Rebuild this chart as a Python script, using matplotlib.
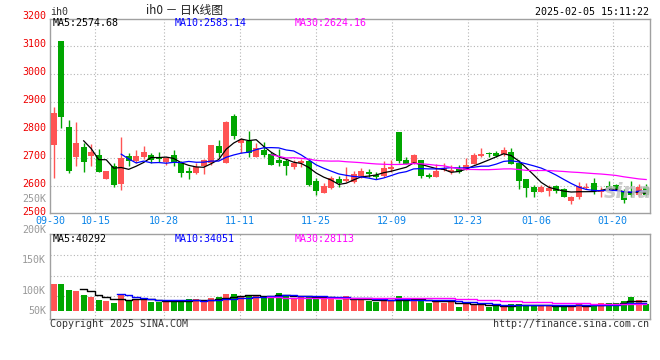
import matplotlib
matplotlib.use("Agg")
import matplotlib.pyplot as plt
import matplotlib.transforms as mtransforms
import pandas as pd

# ih0 daily K, 80 sessions starting 2024-09-30
opens = [2747, 3120, 2813, 2706, 2741, 2708, 2712, 2626, 2674, 2607,
         2708, 2691, 2704, 2712, 2704, 2686, 2712, 2684, 2656, 2646,
         2674, 2684, 2744, 2684, 2851, 2756, 2762, 2706, 2730, 2714,
         2694, 2690, 2670, 2682, 2691, 2619, 2575, 2595, 2626, 2619,
         2616, 2637, 2652, 2640, 2638, 2662, 2795, 2694, 2680, 2694,
         2640, 2634, 2658, 2650, 2661, 2661, 2680, 2710, 2720, 2720,
         2714, 2724, 2684, 2626, 2596, 2581, 2584, 2601, 2589, 2549,
         2563, 2593, 2611, 2580, 2601, 2605, 2584, 2577, 2569, 2596]
highs = [2882, 3120, 2837, 2831, 2756, 2751, 2733, 2655, 2684, 2775,
         2720, 2730, 2745, 2718, 2724, 2704, 2730, 2690, 2670, 2682,
         2697, 2748, 2765, 2834, 2858, 2771, 2798, 2754, 2759, 2724,
         2732, 2696, 2694, 2696, 2700, 2629, 2613, 2637, 2637, 2670,
         2656, 2664, 2662, 2652, 2690, 2694, 2795, 2704, 2715, 2694,
         2649, 2680, 2682, 2676, 2676, 2700, 2720, 2736, 2724, 2727,
         2739, 2736, 2694, 2626, 2605, 2605, 2605, 2605, 2593, 2567,
         2616, 2611, 2629, 2596, 2619, 2608, 2589, 2620, 2608, 2608]
lows = [2629, 2807, 2649, 2672, 2652, 2674, 2652, 2626, 2599, 2587,
        2674, 2682, 2696, 2682, 2688, 2676, 2672, 2634, 2625, 2645,
        2644, 2676, 2704, 2684, 2768, 2718, 2706, 2704, 2706, 2676,
        2674, 2640, 2662, 2670, 2601, 2569, 2575, 2589, 2599, 2616,
        2613, 2629, 2632, 2626, 2634, 2652, 2684, 2680, 2680, 2631,
        2628, 2632, 2655, 2645, 2648, 2658, 2678, 2706, 2704, 2705,
        2708, 2680, 2589, 2561, 2561, 2578, 2565, 2577, 2563, 2536,
        2555, 2590, 2572, 2563, 2587, 2586, 2539, 2563, 2563, 2566]
closes = [2863, 2849, 2656, 2756, 2688, 2724, 2652, 2655, 2605, 2700,
          2691, 2708, 2722, 2694, 2698, 2700, 2684, 2646, 2646, 2670,
          2694, 2748, 2720, 2831, 2780, 2765, 2720, 2736, 2712, 2676,
          2684, 2674, 2684, 2690, 2605, 2584, 2601, 2631, 2613, 2626,
          2644, 2655, 2645, 2633, 2666, 2670, 2691, 2680, 2712, 2637,
          2633, 2655, 2665, 2660, 2652, 2676, 2712, 2716, 2714, 2709,
          2730, 2680, 2620, 2593, 2581, 2596, 2594, 2582, 2563, 2563,
          2601, 2595, 2584, 2585, 2593, 2589, 2551, 2569, 2596, 2568]
# volume, thousands of lots
volumes = [108.9, 108.9, 84.7, 80.6, 64.5, 57.8, 44.4, 40.3, 32.3, 68.5,
           44.4, 48.4, 48.4, 37.6, 37.6, 37.6, 44.4, 37.6, 48.4, 48.4,
           34.9, 53.8, 57.8, 68.5, 68.5, 60.5, 60.5, 60.5, 60.5, 60.5,
           73.9, 64.5, 51.1, 57.8, 57.8, 57.8, 51.1, 48.4, 44.4, 60.5,
           44.4, 44.4, 41.7, 34.9, 51.1, 41.7, 60.5, 40.3, 41.7, 51.1,
           34, 38, 34, 36, 16, 31, 25, 25, 17, 19,
           19, 29, 29, 25, 22, 22, 22, 19, 22, 22,
           28, 19, 28, 33, 30.9, 30.9, 40.3, 57.8, 44.4, 28.2]

tick_idx = [0, 6, 15, 25, 35, 45, 55, 64, 74]
tick_labels = ["09-30", "10-15", "10-28", "11-11", "11-25",
               "12-09", "12-23", "01-06", "01-20"]
price_levels = [2500, 2600, 2700, 2800, 2900, 3000, 3100, 3200]
vol_labels = ["250K", "200K", "150K", "100K", "50K"]
vol_label_px = [199, 230, 260, 290.5, 311]   # where sina prints them

ma_labels = ["MA5:2574.68", "MA10:2583.14", "MA30:2624.16"]
vol_ma_labels = ["MA5:40292", "MA10:34051", "MA30:28113"]

RED = "#ff5454"
GREEN = "#00a600"
MA_COLORS = ["black", "#0000ff", "#ff00ff"]
GRID = dict(color="#b4b4b4", linestyle=(0, (1, 2)), linewidth=0.8)
MONO = "DejaVu Sans Mono"
FS = 7.2

W, H = 660, 360


def fx(px):
    return px / W


def fy(py):
    return 1 - py / H


fig = plt.figure(figsize=(6.6, 3.6), dpi=100)
fig.patch.set_facecolor("white")

x_lo, x_hi = -0.493, 79.44
ax = fig.add_axes([fx(50), fy(212.8), fx(649.5) - fx(50), fy(19) - fy(212.8)])
ax.set_xlim(x_lo, x_hi)
ax.set_ylim(2505.4, 3197.5)
axv = fig.add_axes([fx(50), fy(318.5), fx(649.5) - fx(50), fy(234.3) - fy(318.5)])
axv.set_xlim(x_lo, x_hi)
# bars sit on y=311px, 0.248 px per K
axv.set_ylim(-(318.5 - 311) / 0.248, (311 - 234.3) / 0.248)

for a in (ax, axv):
    a.set_xticks([])
    a.set_yticks([])
    for s in a.spines.values():
        s.set_color("#a0a0a0")
        s.set_linewidth(1)

# sina spaces its date grid a bit wider than the candles
grid_x = [i * 1.0145 - 0.54 for i in tick_idx]
for gx in grid_x[1:]:
    ax.axvline(gx, zorder=0, **GRID)
    axv.axvline(gx, zorder=0, **GRID)
for p in price_levels[1:-1]:
    ax.axhline(p, zorder=0, **GRID)
for f in (0.262, 0.508, 0.754):
    axv.plot([0, 1], [f, f], transform=axv.transAxes, zorder=0, **GRID)

# watermark, bottom right of the price panel
ax.text(0.965, 0.105, "sina", transform=ax.transAxes, ha="center", va="center",
        fontsize=15, style="italic", fontweight="bold", color="#c4c4c4",
        alpha=0.85, zorder=5)

# candles
n = len(closes)
colors = [RED if closes[i] >= opens[i] else GREEN for i in range(n)]
for i in range(n):
    o, h, l, c = opens[i], highs[i], lows[i], closes[i]
    ax.vlines(i, l, h, color=colors[i], linewidth=1, zorder=2)
    ax.bar(i, max(abs(c - o), 3.0), bottom=min(o, c), width=0.8,
           color=colors[i], linewidth=0, zorder=3)

close_s = pd.Series(closes)
for w, col in zip((5, 10, 30), MA_COLORS):
    ax.plot(range(n), close_s.rolling(w).mean(), color=col, linewidth=0.9, zorder=4)

# volume
axv.bar(range(n), volumes, width=0.8, color=colors, linewidth=0, zorder=2)
vol_s = pd.Series(volumes)
for w, col in zip((5, 10, 30), MA_COLORS):
    axv.plot(range(n), vol_s.rolling(w).mean(), color=col, linewidth=1,
             drawstyle="steps-mid", zorder=3)

# price labels
lab_tr = mtransforms.offset_copy(ax.get_yaxis_transform(), fig=fig, x=-4, y=2, units="dots")
for p in price_levels:
    ax.text(0, p, str(p), transform=lab_tr, ha="right", va="center",
            fontsize=FS, family=MONO, color="#ee0000", clip_on=False)
for txt, py in zip(vol_labels, vol_label_px):
    fig.text(fx(46), fy(py), txt, ha="right", va="center", fontsize=FS,
             family=MONO, color="#999999")

# date labels
date_tr = mtransforms.offset_copy(ax.get_xaxis_transform(), fig=fig, x=0, y=-8, units="dots")
for gx, lab in zip(grid_x, tick_labels):
    ax.text(max(gx, x_lo), 0, lab, transform=date_tr, ha="center", va="center",
            fontsize=FS, family=MONO, color="#0a84e8", clip_on=False)

# MA captions
for txt, px, col in zip(ma_labels, (53, 175, 295), MA_COLORS):
    fig.text(fx(px), fy(23.5), txt, ha="left", va="center", fontsize=FS,
             family=MONO, color=col)
for txt, px, col in zip(vol_ma_labels, (53, 175, 295), MA_COLORS):
    fig.text(fx(px), fy(238.5), txt, ha="left", va="center", fontsize=FS,
             family=MONO, color=col)

# header / footer
fig.text(fx(50), fy(12), "ih0", ha="left", va="center", fontsize=FS,
         family=MONO, color="#333333")
fig.text(fx(185), fy(10.5), "ih0 － 日K线图", ha="center", va="center", fontsize=8.5,
         family=["Noto Sans CJK SC", "DejaVu Sans"], color="#222222")
fig.text(fx(649), fy(12), "2025-02-05 15:11:22", ha="right", va="center",
         fontsize=FS, family=MONO, color="black")
fig.text(fx(50), fy(324), "Copyright 2025 SINA.COM", ha="left", va="center",
         fontsize=FS, family=MONO, color="#333333")
fig.text(fx(649), fy(324), "http://finance.sina.com.cn", ha="right", va="center",
         fontsize=FS, family=MONO, color="#333333")

fig.savefig("out.png", dpi=100)
plt.close(fig)
